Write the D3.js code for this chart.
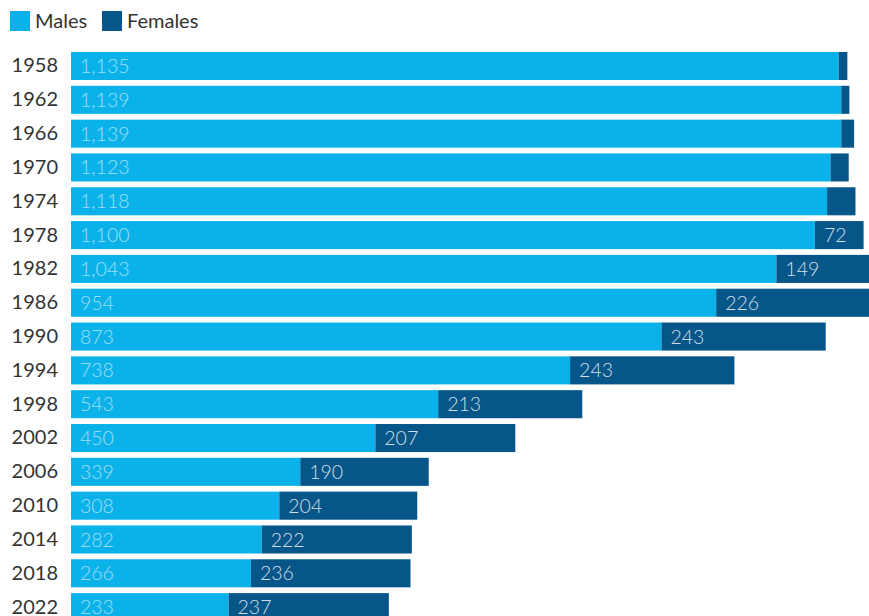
<!DOCTYPE html>
<html><head><meta charset="utf-8">
<script src="https://cdn.jsdelivr.net/npm/d3@7"></script>
<style>body{margin:0;background:#fff;overflow:hidden}svg{display:block}text{font-family:Lato,"Open Sans",sans-serif}</style>
</head><body><svg id="c" width="869" height="616"></svg>
<script>
const years = ["1958","1962","1966","1970","1974","1978","1982","1986","1990","1994","1998","2002","2006","2010","2014","2018","2022"];
const males = [1135,1139,1139,1123,1118,1100,1043,954,873,738,543,450,339,308,282,266,233];
const females = [13,12,19,27,42,72,149,226,243,243,213,207,190,204,222,236,237];
const seriesNames = ["Males","Females"];
const colors = ["#0bb2ea","#06568a"];

const svg = d3.select("#c");
const x = d3.scaleLinear().domain([0,1180]).range([71,869]);
const step = 33.82;
const y = d3.scaleBand().domain(years).range([66-step/2, 66-step/2+years.length*step]).paddingInner(0.17).paddingOuter(0.085);

const fmt = d3.format(",");
const rows = years.map((yr,i)=>({yr, m:males[i], f:females[i]}));

// year axis
const yAxis = d3.axisLeft(y).tickSize(0).tickPadding(13);
const ga = svg.append("g").attr("transform","translate(71,0)").call(yAxis);
ga.select(".domain").remove();
ga.selectAll("text").attr("font-size",20).attr("fill","#333").attr("font-family","Lato, sans-serif");

const g = svg.append("g");
g.selectAll("rect.m").data(rows).join("rect").attr("class","m")
  .attr("x",x(0)).attr("y",d=>y(d.yr)).attr("height",y.bandwidth())
  .attr("width",d=>x(d.m)-x(0)).attr("fill",colors[0]);
g.selectAll("rect.f").data(rows).join("rect").attr("class","f")
  .attr("x",d=>x(d.m)).attr("y",d=>y(d.yr)).attr("height",y.bandwidth())
  .attr("width",d=>x(d.m+d.f)-x(d.m)).attr("fill",colors[1]);

g.selectAll("text.ml").data(rows).join("text").attr("class","ml")
  .attr("x",x(0)+9).attr("y",d=>y(d.yr)+y.bandwidth()/2).attr("dy","0.36em")
  .attr("font-size",19.5).attr("font-weight",300).attr("fill","#ffffff").attr("fill-opacity",0.6)
  .text(d=>fmt(d.m));
g.selectAll("text.fl").data(rows.filter(d=>x(d.m+d.f)-x(d.m)>30)).join("text").attr("class","fl")
  .attr("x",d=>x(d.m)+9).attr("y",d=>y(d.yr)+y.bandwidth()/2).attr("dy","0.36em")
  .attr("font-size",19.5).attr("font-weight",300).attr("fill","#ffffff").attr("fill-opacity",0.82)
  .text(d=>fmt(d.f));

// legend
const leg = svg.append("g");
const lx = [10,102];
seriesNames.forEach((n,i)=>{
  leg.append("rect").attr("x",lx[i]).attr("y",11).attr("width",20).attr("height",20).attr("fill",colors[i]);
  leg.append("text").attr("x",lx[i]+25).attr("y",21).attr("dy","0.36em").attr("font-size",20).attr("fill","#333").text(n);
});
</script></body></html>
